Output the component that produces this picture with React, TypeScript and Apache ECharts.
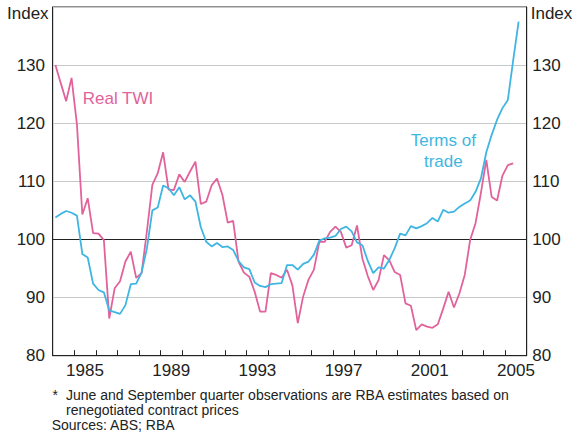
import React, { useEffect, useRef } from "react";
import * as echarts from "echarts";

// Quarterly data, 1984 Q1 onwards
const startYear = 1984;
const realTWI = [
  130.0, 126.9, 123.8, 127.8,
  119.8, 104.3, 107.1, 101.1,
  101.0, 99.9, 86.4, 91.6,
  92.8, 96.2, 97.9, 93.4,
  94.2, 101.5, 109.4, 111.4,
  115.0, 108.6, 108.5, 111.2,
  109.9, 111.7, 113.4, 106.1,
  106.5, 109.3, 110.5, 107.7,
  102.9, 103.2, 96.2, 94.3,
  93.6, 91.0, 87.6, 87.6,
  94.2, 93.9, 93.4, 94.8,
  92.1, 85.6, 90.2, 93.1,
  94.8, 99.6, 99.6, 101.3,
  102.2, 101.3, 98.6, 99.0,
  102.4, 96.7, 93.7, 91.3,
  93.0, 97.3, 96.4, 94.4,
  93.9, 89.0, 88.6, 84.4,
  85.4, 85.0, 84.8, 85.4,
  88.1, 91.0, 88.3, 90.7,
  93.9, 99.9, 102.8, 108.0,
  113.7, 107.3, 106.7, 111.0,
  112.8, 113.1,
];
const termsOfTrade = [
  103.8, 104.4, 104.9, 104.6,
  104.1, 97.5, 96.9, 92.4,
  91.3, 90.9, 87.8, 87.5,
  87.2, 88.7, 92.3, 92.4,
  94.3, 98.5, 105.0, 105.5,
  109.3, 108.8, 107.6, 109.0,
  106.9, 107.6, 106.5, 102.1,
  99.6, 98.8, 99.4, 98.7,
  98.8, 98.2, 96.3, 95.2,
  94.9, 92.6, 92.0, 91.8,
  92.3, 92.4, 92.5, 95.6,
  95.6, 94.8, 95.8, 96.2,
  97.4, 99.8, 100.2, 100.3,
  100.6, 101.8, 102.2, 101.4,
  99.5, 99.0, 96.3, 94.2,
  95.2, 95.0, 96.5, 98.5,
  101.0, 100.7, 102.3, 101.9,
  102.3, 102.8, 103.7, 103.1,
  105.1, 104.6, 104.8, 105.6,
  106.2, 106.7, 108.2, 110.5,
  115.0, 118.0, 120.6, 122.6,
  124.0, 130.9, 137.5,
];
const yearCategories = [
  "1984", "1985", "1986", "1987", "1988", "1989", "1990", "1991",
  "1992", "1993", "1994", "1995", "1996", "1997", "1998", "1999",
  "2000", "2001", "2002", "2003", "2004", "2005",
];
const labelYears = ["1985", "1989", "1993", "1997", "2001", "2005"];
const yTicks = [80, 90, 100, 110, 120, 130];

const FONT = "'Liberation Sans', Arial, Helvetica, sans-serif";
const PINK = "#e2629c";
const BLUE = "#3fb6e2";
const DARK = "#222222";
const GRID = "#c5c9cc";

const toXY = (arr: number[]) =>
  arr.map((v, i) => [startYear + (i + 0.5) / 4, v]);

export default function App() {
  const ref = useRef<HTMLDivElement>(null);
  useEffect(() => {
    if (!ref.current) return;
    const chart = echarts.init(ref.current, undefined, { renderer: "svg" });
    const yAxisBase = {
      type: "value",
      min: 80,
      max: 140,
      interval: 10,
      axisLine: { show: true, lineStyle: { color: DARK, width: 1 } },
      axisTick: { show: false },
      axisLabel: {
        fontSize: 17,
        color: DARK,
        fontFamily: FONT,
        formatter: (v: number) => (yTicks.includes(v) ? String(v) : ""),
      },
    };
    chart.setOption({
      animation: false,
      grid: {
        left: 52.7,
        right: 46.3,
        top: 7,
        bottom: 80.3,
        show: true,
        borderColor: DARK,
        borderWidth: 1,
        backgroundColor: "transparent",
      },
      xAxis: [
        { type: "value", min: 1984, max: 2006, show: false },
        {
          type: "category",
          data: yearCategories,
          position: "bottom",
          boundaryGap: true,
          axisLine: { show: true, lineStyle: { color: DARK, width: 1 } },
          axisTick: {
            show: true,
            inside: true,
            length: 5.5,
            interval: 0,
            alignWithLabel: false,
            lineStyle: { color: DARK, width: 1 },
          },
          axisLabel: {
            interval: (_i: number, val: string) => labelYears.includes(val),
            margin: 6,
            fontSize: 17,
            color: DARK,
            fontFamily: FONT,
          },
          splitLine: { show: false },
        },
      ],
      yAxis: [
        {
          ...yAxisBase,
          position: "left",
          axisLabel: { ...yAxisBase.axisLabel, margin: 7.7 },
          splitLine: { show: true, lineStyle: { color: GRID, width: 1.2 } },
        },
        {
          ...yAxisBase,
          position: "right",
          axisLabel: { ...yAxisBase.axisLabel, margin: 5.6 },
          splitLine: { show: false },
        },
      ],
      series: [
        {
          name: "Real TWI",
          type: "line",
          xAxisIndex: 0,
          yAxisIndex: 0,
          data: toXY(realTWI),
          showSymbol: false,
          lineStyle: { color: PINK, width: 1.8 },
          itemStyle: { color: PINK },
          markLine: {
            silent: true,
            symbol: ["none", "none"],
            label: { show: false },
            lineStyle: { color: DARK, width: 1, type: "solid" },
            data: [{ yAxis: 100 }],
            z: 1,
          },
          z: 3,
        },
        {
          name: "Terms of trade",
          type: "line",
          xAxisIndex: 0,
          yAxisIndex: 0,
          data: toXY(termsOfTrade),
          showSymbol: false,
          lineStyle: { color: BLUE, width: 1.8 },
          itemStyle: { color: BLUE },
          z: 4,
        },
      ],
      graphic: [
        {
          type: "text",
          left: 7,
          top: 5,
          style: { text: "Index", fontSize: 17, fill: DARK, fontFamily: FONT },
        },
        {
          type: "text",
          left: 530.7,
          top: 5,
          style: { text: "Index", fontSize: 17, fill: DARK, fontFamily: FONT },
        },
        {
          type: "text",
          x: 82.7,
          y: 98.3,
          style: {
            text: "Real TWI",
            fontSize: 17,
            fill: PINK,
            fontFamily: FONT,
            align: "left",
            verticalAlign: "middle",
          },
        },
        {
          type: "text",
          x: 443.3,
          y: 150.5,
          style: {
            text: "Terms of\ntrade",
            fontSize: 17,
            lineHeight: 21,
            fill: BLUE,
            fontFamily: FONT,
            align: "center",
            verticalAlign: "middle",
          },
        },
        {
          type: "text",
          x: 52.5,
          y: 394.7,
          style: {
            text: "*",
            fontSize: 14,
            fill: DARK,
            fontFamily: FONT,
            verticalAlign: "middle",
          },
        },
        {
          type: "text",
          x: 66,
          y: 394.7,
          style: {
            text: "June and September quarter observations are RBA estimates based on",
            fontSize: 14,
            fill: DARK,
            fontFamily: FONT,
            verticalAlign: "middle",
          },
        },
        {
          type: "text",
          x: 66,
          y: 409.7,
          style: {
            text: "renegotiated contract prices",
            fontSize: 14,
            fill: DARK,
            fontFamily: FONT,
            verticalAlign: "middle",
          },
        },
        {
          type: "text",
          x: 51.7,
          y: 424.7,
          style: {
            text: "Sources: ABS; RBA",
            fontSize: 14,
            fill: DARK,
            fontFamily: FONT,
            verticalAlign: "middle",
          },
        },
      ],
    });
    return () => chart.dispose();
  }, []);
  return (
    <div
      ref={ref}
      style={{ position: "absolute", left: 0, top: 0, width: 573, height: 436, background: "#fff" }}
    />
  );
}
